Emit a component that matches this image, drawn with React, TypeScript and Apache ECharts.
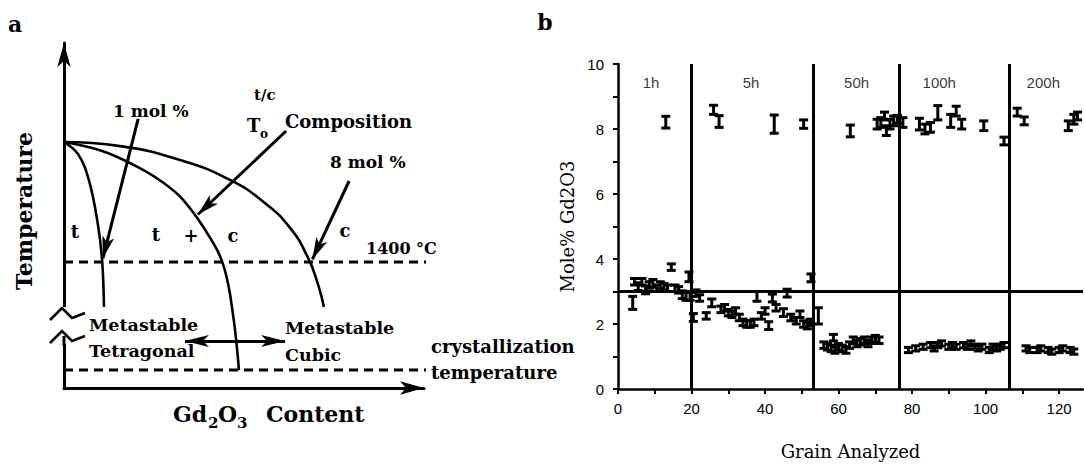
import React, { useEffect, useRef } from "react";
import * as echarts from "echarts";

// ---------- Panel b data ----------
const grainX = [
  13, 26, 27.5, 42.5, 50.5, 63.2, 70.5, 71.5, 72.5, 73, 74, 75, 76, 77.5, 82, 83.5, 85, 87, 90.5, 92, 93.5, 99.5, 105, 108.6, 110.5, 122.5, 124, 125,
  4, 4.5, 5.5, 6.5, 7.5, 8.5, 9.5, 10.5, 11.5, 12.5, 13.5, 14.5, 15.5, 16.5, 17.5, 18.5, 19.3, 19.6,
  20.5, 21.2, 22.2, 24, 25.5, 28, 29, 30, 31, 32, 33, 34, 35, 36, 37, 37.8, 39, 40, 41, 42, 43, 45, 46, 47, 48.5, 49.5, 50.5, 51.5, 52.3, 52.5,
  54.5, 56, 57, 58, 58.6, 59, 60, 61, 62, 63, 64, 65, 66, 67, 68, 69, 70, 71,
  79, 81, 83, 85, 86, 87, 88, 90, 91, 92, 94, 95, 96, 97, 98, 99, 101, 102, 103, 104, 105,
  111, 112, 114, 115, 117, 118, 120, 121, 123, 124,
];
const moleMean = [
  8.21, 8.59, 8.23, 8.15, 8.15, 7.94, 8.15, 8.2, 8.4, 7.95, 8.15, 8.25, 8.3, 8.2, 8.15, 8.0, 8.05, 8.5, 8.25, 8.55, 8.15, 8.1, 7.63, 8.52, 8.25, 8.1, 8.3, 8.4,
  2.65, 3.3, 3.15, 3.3, 3.05, 3.2, 3.25, 3.1, 3.2, 3.15, 3.1, 3.75, 3.1, 3.05, 2.9, 2.85, 3.45, 2.85,
  2.2, 2.95, 2.8, 2.25, 2.65, 2.45, 2.5, 2.35, 2.3, 2.4, 2.2, 2.05, 2.0, 2.0, 2.05, 2.85, 2.25, 2.4, 1.95, 2.8, 2.5, 2.35, 2.95, 2.2, 2.1, 2.3, 2.0, 1.95, 2.05, 3.42,
  2.25, 1.35, 1.3, 1.25, 1.58, 1.2, 1.3, 1.25, 1.2, 1.35, 1.5, 1.4, 1.45, 1.5, 1.4, 1.5, 1.55, 1.5,
  1.2, 1.25, 1.3, 1.35, 1.25, 1.35, 1.4, 1.3, 1.35, 1.3, 1.35, 1.3, 1.4, 1.3, 1.25, 1.3, 1.2, 1.3, 1.25, 1.3, 1.35,
  1.25, 1.2, 1.2, 1.25, 1.2, 1.15, 1.2, 1.25, 1.2, 1.15,
];
const moleErr = [
  0.18, 0.14, 0.18, 0.28, 0.13, 0.18, 0.15, 0.15, 0.12, 0.15, 0.15, 0.15, 0.12, 0.15, 0.18, 0.15, 0.15, 0.22, 0.2, 0.15, 0.15, 0.15, 0.12, 0.12, 0.12, 0.15, 0.15, 0.12,
  0.2, 0.1, 0.12, 0.1, 0.12, 0.1, 0.12, 0.1, 0.1, 0.1, 0.1, 0.1, 0.1, 0.1, 0.12, 0.12, 0.15, 0.12,
  0.12, 0.1, 0.1, 0.1, 0.12, 0.1, 0.1, 0.1, 0.1, 0.1, 0.1, 0.1, 0.1, 0.1, 0.1, 0.15, 0.1, 0.1, 0.12, 0.12, 0.1, 0.12, 0.12, 0.1, 0.1, 0.1, 0.1, 0.1, 0.1, 0.12,
  0.25, 0.1, 0.1, 0.1, 0.1, 0.1, 0.1, 0.1, 0.1, 0.1, 0.1, 0.1, 0.1, 0.1, 0.1, 0.1, 0.1, 0.1,
  0.08, 0.08, 0.08, 0.08, 0.08, 0.08, 0.08, 0.08, 0.08, 0.08, 0.08, 0.08, 0.08, 0.08, 0.08, 0.08, 0.08, 0.08, 0.08, 0.08, 0.08,
  0.08, 0.08, 0.08, 0.08, 0.08, 0.08, 0.08, 0.08, 0.08, 0.08,
];
const sectionBounds = [20, 53, 76.5, 106.5];
const referenceLevel = 3;
const sectionNames = ["1h", "5h", "50h", "100h", "200h"];
const sectionLabelX = [9, 36.2, 64.9, 87.4, 115.7];
const sectionLabelY = 9.42;
const xTickValues = [0, 10, 20, 30, 40, 50, 60, 70, 80, 90, 100, 110, 120];
const xLabelValues = [0, 20, 40, 60, 80, 100, 120];
const yTickValues = [0, 1, 2, 3, 4, 5, 6, 7, 8, 9, 10];
const yLabelValues = [0, 2, 4, 6, 8, 10];

// ---------- Panel a schematic (composition 0-100, temperature 0-100) ----------
const tBoundary = [[0, 71.3], [3.9, 67.8], [6.9, 60.3], [9.4, 47.5], [10.6, 36.8], [11.1, 23.5]];
const t0Curve = [[0, 71.3], [10.6, 68.7], [20, 64.3], [26.9, 60], [33.1, 54.5], [40.6, 43.5], [44.5, 34.8], [47, 20.9], [48.6, 5.2]];
const cBoundary = [[0, 71.3], [15.6, 70.1], [32.2, 66.1], [46.1, 60.3], [55.8, 53.6], [62.8, 46.4], [67.8, 37.7], [70.6, 29.9], [72.2, 23.5]];
const level1400 = 36.5;
const levelCrystal = 5.2;
const dashEnd = 101;
const arrow1mol = [[20.6, 78], [10.8, 37.6]];
const arrowComp = [[61.7, 74.5], [37.2, 50.3]];
const arrow8mol = [[79.2, 60], [69, 37.3]];
const arrowMeta = [[33.6, 13.6], [61.4, 13.6]];

const SERIF = '"DejaVu Serif"';
const SANS = '"Liberation Sans"';

function txt(text: string, x: number, y: number, size: number, align = "left", extra: any = {}) {
  return {
    type: "text",
    x,
    y,
    z: 100,
    ...extra,
    style: {
      text,
      font: `bold ${size}px ${SERIF}`,
      fill: "#000",
      align,
      verticalAlign: "middle",
      textAlign: align,
      textVerticalAlign: "middle",
    },
  };
}

export default function App() {
  const ref = useRef<HTMLDivElement>(null);
  useEffect(() => {
    if (!ref.current) return;
    const chart = echarts.init(ref.current, null, { renderer: "svg" });
    const black = "#000";
    const errData = grainX.map((x, i) => [x, moleMean[i], moleErr[i]]);
    const lineStyleA = { color: black, width: 2.6 };
    const dashStyle = { color: black, width: 3, type: [9, 6] };

    const option: any = {
      animation: false,
      backgroundColor: "#fff",
      grid: [
        { left: 64, top: 43, width: 360, height: 345 },
        { left: 618, top: 64, width: 465, height: 325 },
      ],
      xAxis: [
        {
          gridIndex: 0, type: "value", min: 0, max: 100,
          axisLine: { show: true, symbol: ["none", "arrow"], symbolSize: [10, 24], lineStyle: { color: black, width: 3 } },
          axisTick: { show: false }, axisLabel: { show: false }, splitLine: { show: false },
        },
        {
          gridIndex: 1, type: "value", min: 0, max: 126.5,
          axisLine: { show: true, onZero: false, lineStyle: { color: black, width: 2.5 } },
          axisTick: { show: true, customValues: xTickValues, length: 5, lineStyle: { color: black, width: 2 } },
          axisLabel: { show: true, customValues: xLabelValues, color: black, fontFamily: SANS, fontSize: 15, margin: 12 },
          splitLine: { show: false },
          name: "Grain Analyzed", nameLocation: "middle", nameGap: 53,
          nameTextStyle: { fontFamily: SERIF, fontSize: 18, color: black },
        },
      ],
      yAxis: [
        {
          gridIndex: 0, type: "value", min: 0, max: 100,
          axisLine: { show: true, symbol: ["none", "arrow"], symbolSize: [10, 24], lineStyle: { color: black, width: 3 } },
          axisTick: { show: false }, axisLabel: { show: false }, splitLine: { show: false },
        },
        {
          gridIndex: 1, type: "value", min: 0, max: 10,
          axisLine: { show: true, onZero: false, lineStyle: { color: black, width: 2.5 } },
          axisTick: { show: true, customValues: yTickValues, length: 5, lineStyle: { color: black, width: 2 } },
          axisLabel: { show: true, customValues: yLabelValues, color: black, fontFamily: SANS, fontSize: 15, margin: 14 },
          splitLine: { show: false },
          name: "Mole% Gd2O3", nameLocation: "middle", nameGap: 42,
          nameTextStyle: { fontFamily: SERIF, fontSize: 18, color: black },
        },
      ],
      series: [
        { type: "line", xAxisIndex: 0, yAxisIndex: 0, data: tBoundary, smooth: 0.4, symbol: "none", lineStyle: lineStyleA, silent: true },
        { type: "line", xAxisIndex: 0, yAxisIndex: 0, data: t0Curve, smooth: 0.4, symbol: "none", lineStyle: lineStyleA, silent: true },
        { type: "line", xAxisIndex: 0, yAxisIndex: 0, data: cBoundary, smooth: 0.5, symbol: "none", lineStyle: lineStyleA, silent: true },
        { type: "line", xAxisIndex: 0, yAxisIndex: 0, data: [[0, level1400], [dashEnd, level1400]], symbol: "none", lineStyle: dashStyle, silent: true, clip: false },
        { type: "line", xAxisIndex: 0, yAxisIndex: 0, data: [[0, levelCrystal], [dashEnd, levelCrystal]], symbol: "none", lineStyle: dashStyle, silent: true, clip: false },
        {
          type: "line", xAxisIndex: 0, yAxisIndex: 0, data: [], silent: true,
          markLine: {
            silent: true, animation: false, label: { show: false },
            symbol: ["none", "arrow"], symbolSize: [9, 22],
            lineStyle: { color: black, width: 3, type: "solid" },
            data: [
              [{ coord: arrow1mol[0] }, { coord: arrow1mol[1] }],
              [{ coord: arrowComp[0] }, { coord: arrowComp[1] }],
              [{ coord: arrow8mol[0] }, { coord: arrow8mol[1] }],
            ],
          },
        },
        {
          type: "line", xAxisIndex: 0, yAxisIndex: 0, data: [], silent: true,
          markLine: {
            silent: true, animation: false, label: { show: false },
            symbol: ["arrow", "arrow"], symbolSize: [9, 24],
            lineStyle: { color: black, width: 3, type: "solid" },
            data: [[{ coord: arrowMeta[0] }, { coord: arrowMeta[1] }]],
          },
        },
        {
          type: "custom", xAxisIndex: 1, yAxisIndex: 1, data: errData, encode: { x: 0, y: 1 }, silent: true,
          renderItem: (params: any, api: any) => {
            const x = api.value(0), m = api.value(1), e = api.value(2);
            const top = api.coord([x, m + e]);
            const bot = api.coord([x, m - e]);
            const hw = 4.5;
            const st = { stroke: black, lineWidth: 3 };
            return {
              type: "group",
              children: [
                { type: "line", shape: { x1: top[0], y1: top[1], x2: bot[0], y2: bot[1] }, style: st },
                { type: "line", shape: { x1: top[0] - hw, y1: top[1], x2: top[0] + hw, y2: top[1] }, style: st },
                { type: "line", shape: { x1: bot[0] - hw, y1: bot[1], x2: bot[0] + hw, y2: bot[1] }, style: st },
              ],
            };
          },
        },
        {
          type: "line", xAxisIndex: 1, yAxisIndex: 1, data: [], silent: true,
          markLine: {
            silent: true, animation: false, label: { show: false }, symbol: "none",
            lineStyle: { color: black, width: 3, type: "solid" },
            data: [...sectionBounds.map((v) => ({ xAxis: v })), { yAxis: referenceLevel }],
          },
        },
        {
          type: "scatter", xAxisIndex: 1, yAxisIndex: 1, silent: true,
          symbolSize: 1, itemStyle: { color: "rgba(0,0,0,0)" },
          data: sectionNames.map((n, i) => ({ name: n, value: [sectionLabelX[i], sectionLabelY] })),
          label: { show: true, position: "inside", formatter: "{b}", color: black, fontFamily: SANS, fontSize: 15 },
        },
      ],
      graphic: [
        // axis break on temperature axis
        { type: "rect", z: 100, shape: { x: 58, y: 307, width: 12, height: 37 }, style: { fill: "#fff" } },
        { type: "polyline", z: 101, shape: { points: [[50, 320], [62, 308], [72, 318], [85, 313]] }, style: { stroke: black, lineWidth: 2.6, fill: null } },
        { type: "polyline", z: 101, shape: { points: [[50, 343], [62, 331], [72, 341], [85, 336]] }, style: { stroke: black, lineWidth: 2.6, fill: null } },
        { type: "line", z: 101, shape: { x1: 64, y1: 336, x2: 64, y2: 346 }, style: { stroke: black, lineWidth: 3 } },
        txt("a", 15, 24, 22, "center"),
        txt("b", 545, 22, 22, "center"),
        txt("Temperature", 24, 211, 22, "center", { rotation: Math.PI / 2 }),
        txt("Gd", 173, 414, 22),
        txt("2", 208, 423, 15),
        txt("O", 218, 414, 22),
        txt("3", 237, 423, 15),
        txt("Content", 266, 414, 22),
        txt("1 mol %", 113, 111, 17),
        txt("T", 247, 125, 18),
        txt("o", 260, 134, 12),
        txt("t/c", 254, 95, 15),
        txt("Composition", 285, 121, 18),
        txt("8 mol %", 330, 162, 17),
        txt("t", 75, 231, 18, "center"),
        txt("t", 156, 234, 18, "center"),
        txt("+", 191, 235, 18, "center"),
        txt("c", 233, 235, 18, "center"),
        txt("c", 345, 230, 18, "center"),
        txt("1400 °C", 366, 248, 16),
        txt("Metastable", 89, 325, 17.5),
        txt("Tetragonal", 89, 351, 17.5),
        txt("Metastable", 285, 328, 17.5),
        txt("Cubic", 285, 355, 17.5),
        txt("crystallization", 431, 346, 18),
        txt("temperature", 431, 372, 18),
      ],
    };
    chart.setOption(option);
    return () => chart.dispose();
  }, []);
  return <div ref={ref} style={{ width: 1084, height: 468, position: "absolute", left: 0, top: 0 }} />;
}
